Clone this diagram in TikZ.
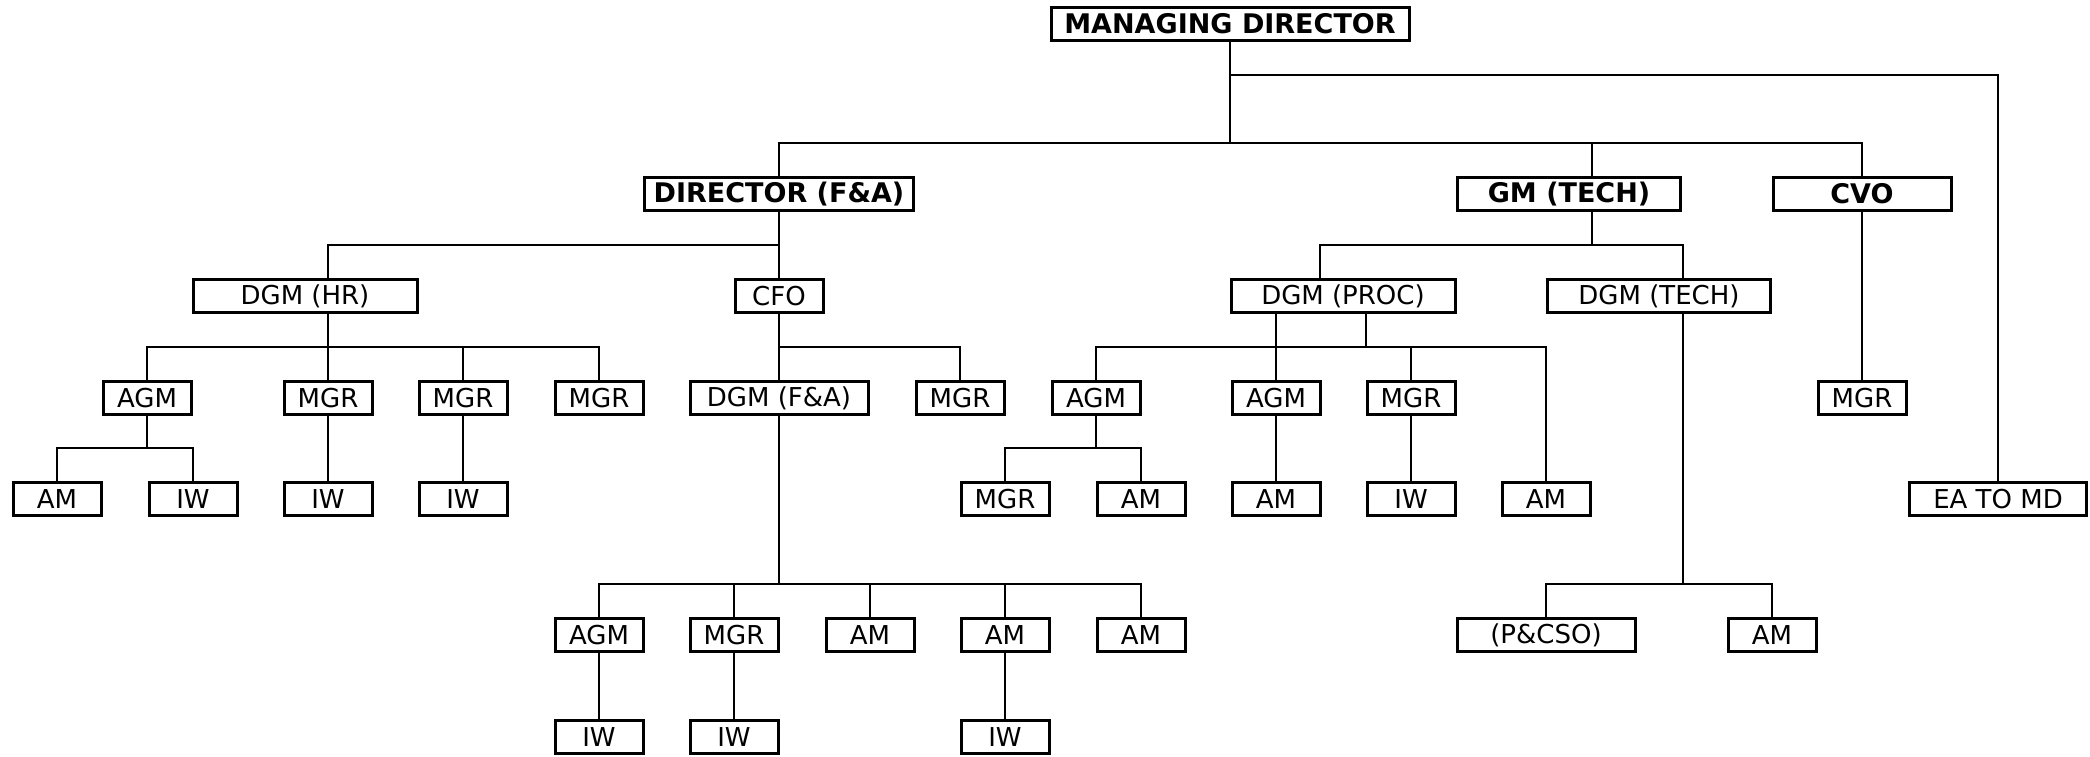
\documentclass[tikz,border=0pt]{standalone}
\usepackage{fontspec}
\setmainfont{DejaVu Sans}

\begin{document}
\begin{tikzpicture}[x=1pt, y=-1pt,
    post/.style={draw, line width=3pt, minimum width=88pt, minimum height=33pt, inner sep=0pt, font=\fontsize{26}{30}\selectfont},
    head/.style={post, font=\bfseries\fontsize{27}{30}\selectfont},
    link/.style={line width=2.9pt}]
    \useasboundingbox (0,0) rectangle (2090,757);

    % levels of the horizontal buses
    \coordinate (busa) at (0,75);
    \coordinate (busb) at (0,143);
    \coordinate (busc) at (0,245);
    \coordinate (busd) at (0,347);
    \coordinate (buse) at (0,448);
    \coordinate (busf) at (0,584);

    % top
    \node[head, minimum width=358pt] (md) at (1230,24) {MANAGING DIRECTOR};

    % directors
    \node[head, minimum width=269pt] (dfa) at (779,194) {DIRECTOR (F\&A)};
    \node[head, minimum width=223pt] (gmt) at (1569,194) {GM (TECH)};
    \node[head, minimum width=178pt] (cvo) at (1862,194) {CVO};

    % deputies
    \node[post, minimum width=224pt] (hr) at (305,296) {DGM (HR)};
    \node[post] (cfo) at (779,296) {CFO};
    \node[post, minimum width=224pt] (proc) at (1343,296) {DGM (PROC)};
    \node[post, minimum width=223pt] (tech) at (1659,296) {DGM (TECH)};

    % third row
    \node[post] (hragm) at (147,398) {AGM};
    \node[post] (hrmgra) at (328,398) {MGR};
    \node[post] (hrmgrb) at (463,398) {MGR};
    \node[post] (hrmgrc) at (599,398) {MGR};
    \node[post, minimum width=178pt] (fadgm) at (779,398) {DGM (F\&A)};
    \node[post] (cfomgr) at (960,398) {MGR};
    \node[post] (pagma) at (1096,398) {AGM};
    \node[post] (pagmb) at (1276,398) {AGM};
    \node[post] (pmgr) at (1411,398) {MGR};
    \node[post] (cvomgr) at (1862,398) {MGR};

    % fourth row
    \node[post] (hram) at (57,499) {AM};
    \node[post] (hriwa) at (193,499) {IW};
    \node[post] (hriwb) at (328,499) {IW};
    \node[post] (hriwc) at (463,499) {IW};
    \node[post] (pmgrb) at (1005,499) {MGR};
    \node[post] (pama) at (1141,499) {AM};
    \node[post] (pamb) at (1276,499) {AM};
    \node[post] (piw) at (1411,499) {IW};
    \node[post] (pamc) at (1546,499) {AM};
    \node[post, minimum width=177pt] (ea) at (1998,499) {EA TO MD};

    % fifth row
    \node[post] (faagm) at (599,635) {AGM};
    \node[post] (famgr) at (734,635) {MGR};
    \node[post] (faama) at (870,635) {AM};
    \node[post] (faamb) at (1005,635) {AM};
    \node[post] (faamc) at (1141,635) {AM};
    \node[post, minimum width=178pt] (pcso) at (1546,635) {(P\&CSO)};
    \node[post] (tam) at (1772,635) {AM};

    % last row
    \node[post] (faiwa) at (599,737) {IW};
    \node[post] (faiwb) at (734,737) {IW};
    \node[post] (faiwc) at (1005,737) {IW};

    % managing director
    \draw[link] (md.south) -- (md.south |- busb);
    \draw[link] (md.south |- busa) -| (ea.north);
    \draw[link] (dfa.north) |- (cvo.north |- busb) -- (cvo.north);
    \draw[link] ([xshift=23pt]gmt.north) -- ([xshift=23pt]gmt.north |- busb);

    % director (f&a)
    \draw[link] (dfa.south) -- (cfo.north);
    \draw[link] (dfa.south |- busc) -| (hrmgra |- hr.north);

    % dgm (hr)
    \draw[link] (hrmgra.north |- hr.south) -- (hrmgra.north);
    \draw[link] (hragm.north) |- (hrmgrc.north |- busd) -- (hrmgrc.north);
    \draw[link] (hrmgrb.north) -- (hrmgrb.north |- busd);
    \draw[link] (hragm.south) -- (hragm.south |- buse);
    \draw[link] (hram.north) |- (hriwa.north |- buse) -- (hriwa.north);
    \draw[link] (hrmgra.south) -- (hriwb.north);
    \draw[link] (hrmgrb.south) -- (hriwc.north);

    % cfo
    \draw[link] (cfo.south) -- (fadgm.north);
    \draw[link] (cfo.south |- busd) -| (cfomgr.north);
    \draw[link] (fadgm.south) -- (fadgm.south |- busf);
    \draw[link] (faagm.north) |- (faamc.north |- busf) -- (faamc.north);
    \foreach \n in {famgr, faama, faamb}
        \draw[link] (\n.north) -- (\n.north |- busf);
    \draw[link] (faagm.south) -- (faiwa.north);
    \draw[link] (famgr.south) -- (faiwb.north);
    \draw[link] (faamb.south) -- (faiwc.north);

    % gm (tech)
    \draw[link] ([xshift=23pt]gmt.south) -- ([xshift=23pt]gmt.south |- busc);
    \draw[link] ([xshift=-23pt]proc.north) |- ([xshift=24pt]tech.north |- busc) -- ([xshift=24pt]tech.north);

    % dgm (proc)
    \draw[link] (pagmb.north |- proc.south) -- (pagmb.north);
    \draw[link] ([xshift=23pt]proc.south) -- ([xshift=23pt]proc.south |- busd);
    \draw[link] (pagma.north) |- (pamc.north |- busd) -- (pamc.north);
    \draw[link] (pmgr.north) -- (pmgr.north |- busd);
    \draw[link] (pagma.south) -- (pagma.south |- buse);
    \draw[link] (pmgrb.north) |- (pama.north |- buse) -- (pama.north);
    \draw[link] (pagmb.south) -- (pamb.north);
    \draw[link] (pmgr.south) -- (piw.north);

    % dgm (tech)
    \draw[link] ([xshift=24pt]tech.south) -- ([xshift=24pt]tech.south |- busf);
    \draw[link] (pcso.north) |- (tam.north |- busf) -- (tam.north);

    % cvo
    \draw[link] (cvo.south) -- (cvomgr.north);
\end{tikzpicture}
\end{document}
